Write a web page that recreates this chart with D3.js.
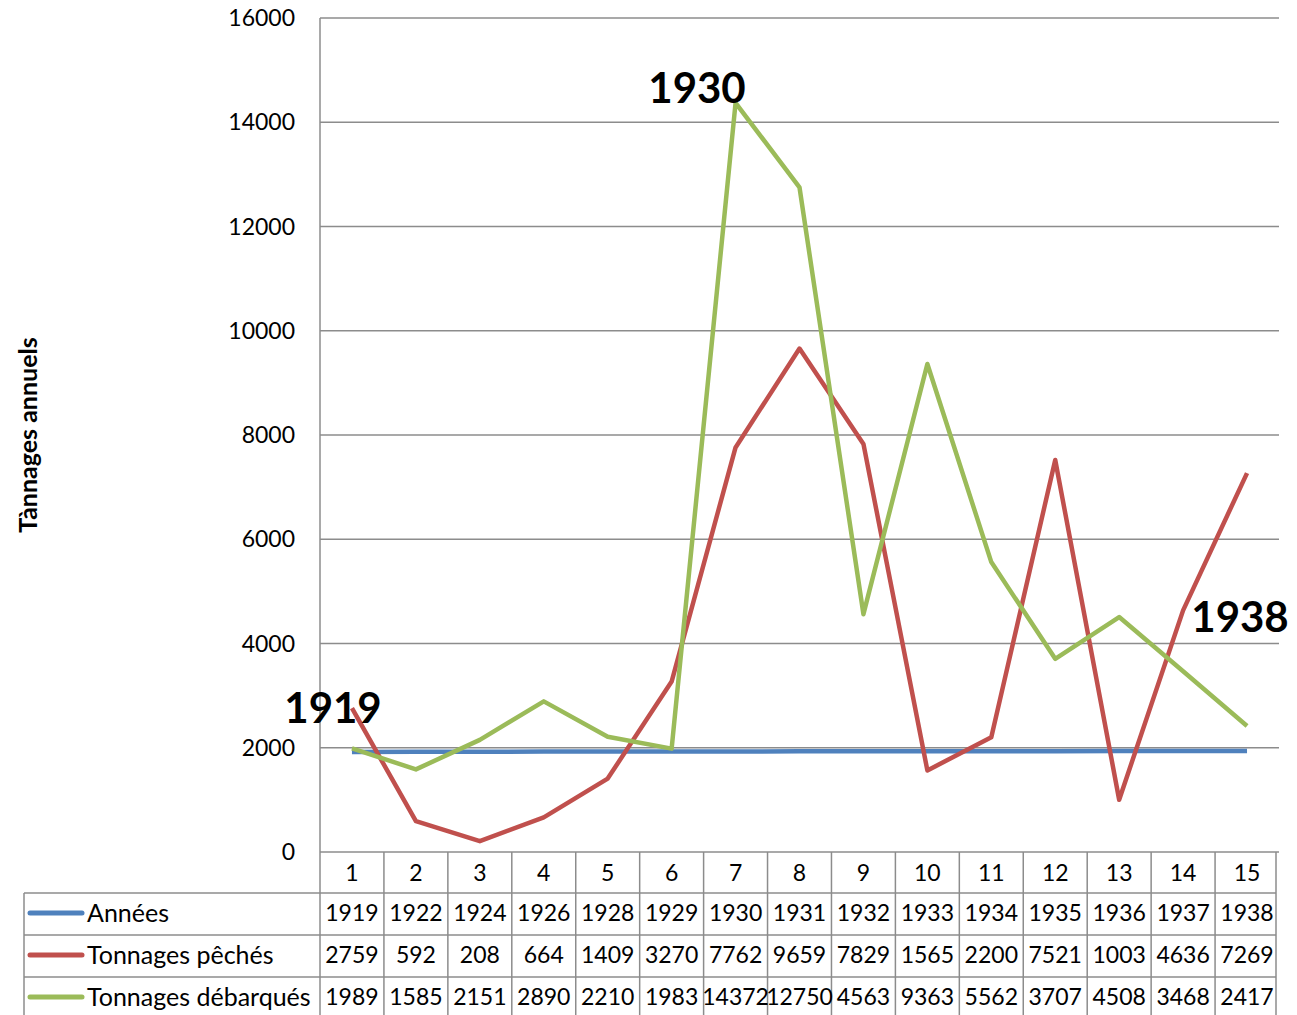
<!DOCTYPE html>
<html><head><meta charset="utf-8">
<script src="https://cdn.jsdelivr.net/npm/d3@7"></script>
<style>body{margin:0;background:#fff;} svg{display:block;font-family:Lato,"Open Sans",sans-serif;}</style>
</head><body>
<svg id="c" width="1297" height="1015"></svg>
<script>
const categories = [1,2,3,4,5,6,7,8,9,10,11,12,13,14,15];
const annees = [1919,1922,1924,1926,1928,1929,1930,1931,1932,1933,1934,1935,1936,1937,1938];
const peches = [2759,592,208,664,1409,3270,7762,9659,7829,1565,2200,7521,1003,4636,7269];
const debarques = [1989,1585,2151,2890,2210,1983,14372,12750,4563,9363,5562,3707,4508,3468,2417];
const yTicks = [0,2000,4000,6000,8000,10000,12000,14000,16000];
const seriesNames = ["Années","Tonnages pêchés","Tonnages débarqués"];
const seriesColors = ["#4F81BD","#C0504D","#9BBB59"];
const annotations = [{i:0,label:"1919"},{i:6,label:"1930"},{i:14,label:"1938"}];

const svg = d3.select("#c");
const L=320,R=1279,T=18,B=852;
const x = d3.scaleBand().domain(categories).range([L,R]);
const y = d3.scaleLinear().domain([0,16000]).range([B,T]);
const grid="#8c8c8c";

// gridlines
svg.append("g").selectAll("line").data(yTicks).join("line")
  .attr("x1",L).attr("x2",R).attr("y1",d=>y(d)).attr("y2",d=>y(d))
  .attr("stroke",grid).attr("stroke-width",1.5);
svg.append("line").attr("x1",L).attr("x2",L).attr("y1",T).attr("y2",B).attr("stroke",grid).attr("stroke-width",1.5);
// y labels
svg.append("g").selectAll("text").data(yTicks).join("text")
  .attr("x",295).attr("y",d=>y(d)+8).attr("text-anchor","end")
  .attr("font-size",23).attr("fill","#000").text(d=>d);
// y title
svg.append("text").attr("transform","translate(37,435) rotate(-90)")
  .attr("text-anchor","middle").attr("font-size",25).attr("font-weight","bold").text("Tànnages annuels");

// table
const rowH=42;
const tbl = svg.append("g");
const rowsData=[annees,peches,debarques];
[B+41,B+83,B+125].forEach(yy=>tbl.append("line").attr("x1",24).attr("x2",R-3).attr("y1",yy).attr("y2",yy).attr("stroke",grid).attr("stroke-width",1.5));
tbl.append("line").attr("x1",24).attr("x2",24).attr("y1",B+41).attr("y2",1015).attr("stroke",grid).attr("stroke-width",1.5);
categories.forEach(c=>{
  tbl.append("line").attr("x1",x(c)).attr("x2",x(c)).attr("y1",B).attr("y2",1015).attr("stroke",grid).attr("stroke-width",1.5);
});
tbl.append("line").attr("x1",R-3).attr("x2",R-3).attr("y1",B).attr("y2",1015).attr("stroke",grid).attr("stroke-width",1.5);
// header numbers
tbl.selectAll("text.h").data(categories).join("text").attr("class","h")
  .attr("x",d=>x(d)+x.bandwidth()/2).attr("y",B+29).attr("text-anchor","middle").attr("font-size",23).text(d=>d);
rowsData.forEach((arr,r)=>{
  const ry = B+41+rowH*r;
  tbl.append("line").attr("x1",30).attr("x2",82).attr("y1",ry+20).attr("y2",ry+20)
    .attr("stroke",seriesColors[r]).attr("stroke-width",5).attr("stroke-linecap","round");
  tbl.append("text").attr("x",87).attr("y",ry+29).attr("font-size",25).text(seriesNames[r]);
  tbl.selectAll("text.v"+r).data(arr).join("text").attr("class","v"+r)
    .attr("x",(d,i)=>x(categories[i])+x.bandwidth()/2).attr("y",ry+28).attr("text-anchor","middle")
    .attr("font-size",23).text(d=>d);
});

// lines
const line = d3.line().x((d,i)=>x(categories[i])+x.bandwidth()/2).y(d=>y(d));
rowsData.forEach((arr,r)=>{
  svg.append("path").datum(arr).attr("d",line).attr("fill","none")
    .attr("stroke",seriesColors[r]).attr("stroke-width",4.5).attr("stroke-linejoin","round");
});

// annotations
const annPos = {"1919":[333,723],"1930":[697,103],"1938":[1240,632]};
annotations.forEach(a=>{
  const p = annPos[a.label];
  svg.append("text").attr("x",p[0]).attr("y",p[1]).attr("text-anchor","middle")
    .attr("font-size",42).attr("font-weight","bold").text(a.label);
});
</script>
</body></html>
